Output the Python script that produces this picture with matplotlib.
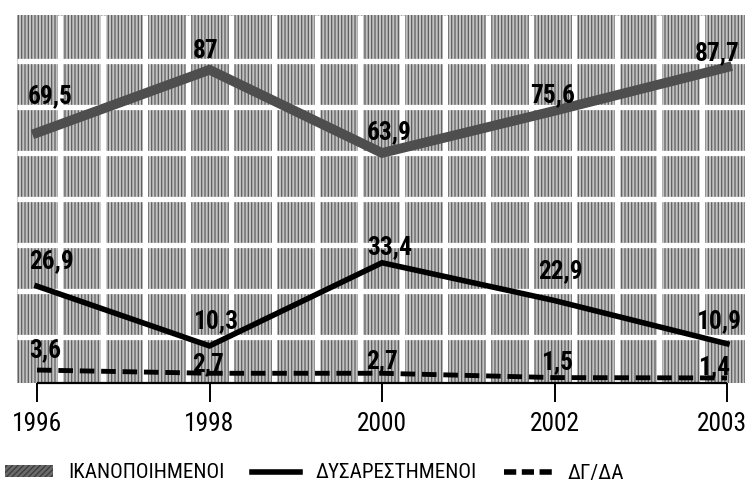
import matplotlib
matplotlib.use("Agg")
import matplotlib.pyplot as plt
import matplotlib.font_manager as fm
import matplotlib.transforms as mtransforms
from matplotlib.font_manager import FontProperties
from matplotlib.lines import Line2D
from matplotlib.patches import Patch

plt.rcParams['hatch.linewidth'] = 0.9

years = ['1996', '1998', '2000', '2002', '2003']
satisfied = [69.5, 87, 63.9, 75.6, 87.7]
dissatisfied = [26.9, 10.3, 33.4, 22.9, 10.9]
dk_na = [3.6, 2.7, 2.7, 1.5, 1.4]
labels_sat = ['69,5', '87', '63,9', '75,6', '87,7']
labels_dis = ['26,9', '10,3', '33,4', '22,9', '10,9']
labels_dk = ['3,6', '2,7', '2,7', '1,5', '1,4']
legend_names = ['ΙΚΑΝΟΠΟΙΗΜΕΝΟΙ', 'ΔΥΣΑΡΕΣΤΗΜΕΝΟΙ', 'ΔΓ/ΔΑ']

# label offsets in pixels (style)
off_sat = [(13, 37), (-4, 19), (7, 21), (-2, 16), (-10, 14)]
off_dis = [(14, 25), (6, 25), (8, 16), (6, 29), (-8, 23)]
off_dk = [(8, 20), (-1, 9), (0, 12), (3, 15), (-13, 11)]

# ---- choose a condensed font if one is installed ----
def pick_font(bold):
    want_w = 700 if bold else 400
    prefs = ['Liberation Sans Narrow', 'Roboto Condensed', 'Open Sans Condensed',
             'Arial Narrow', 'DejaVu Sans Condensed', 'Noto Sans Condensed']
    cands = []
    for f in fm.fontManager.ttflist:
        nm = f.name
        stretch = f.stretch
        is_cond = ('Narrow' in nm or 'Condensed' in nm or
                   (isinstance(stretch, str) and 'condensed' in stretch) or
                   (isinstance(stretch, int) and stretch < 500))
        if not is_cond:
            continue
        w = f.weight if isinstance(f.weight, int) else (700 if 'bold' in str(f.weight) else 400)
        if f.style != 'normal':
            continue
        cands.append((nm, w, f.fname))
    best = None
    for p in prefs:
        for nm, w, fn in cands:
            if nm.startswith(p.split(' Condensed')[0].split(' Narrow')[0]) and abs(w - want_w) < 150:
                best = fn
                break
        if best:
            break
    if best is None:
        for nm, w, fn in cands:
            if abs(w - want_w) < 150:
                best = fn
                break
    if best is None:
        return FontProperties(family='Liberation Sans', weight='bold' if bold else 'normal')
    return FontProperties(fname=best)

fp_reg = pick_font(False)
fp_bold = pick_font(True)

fig = plt.figure(figsize=(7.49, 4.92), dpi=100)
renderer = fig.canvas.get_renderer()

def fit(fp, s, target_w, target_cap, mix=0.0):
    p = fp.copy()
    p.set_size(20)
    t = fig.text(0, 0, s, fontproperties=p)
    w = t.get_window_extent(renderer).width
    t.remove()
    sw = 20 * target_w / w
    size = min(sw, target_cap) if mix == 0 else (sw ** (1 - mix)) * (target_cap ** mix)
    p.set_size(size)
    return p

fp_lab = fit(fp_bold, '69,5', 42, 19.5, mix=0.5)
fp_tick = fit(fp_reg, '1996', 50, 19)
fp_leg = fit(fp_reg, 'ΙΚΑΝΟΠΟΙΗΜΕΝΟΙ', 156, 15.5)

ax = fig.add_axes([17/749, 1-383/492, (745-17)/749, (383-15)/492])

x = list(range(len(years)))
ax.set_xlim(-20/172.5, 4 + 18/172.5)
ax.set_ylim(0, 368/3.6)

# tiled hatched background
ax.patch.set_facecolor('#c2c2c2')
ax.patch.set_edgecolor('#5e5e5e')
ax.patch.set_hatch('|||||')
ax.patch.set_linewidth(0)
ncol_t, nrow_t = 17, 8
for i in range(1, ncol_t):
    ax.plot([i/ncol_t]*2, [0, 1], transform=ax.transAxes, color='white', lw=3.8, zorder=1, solid_capstyle='butt')
for j in range(1, nrow_t):
    ax.plot([0, 1], [j/nrow_t]*2, transform=ax.transAxes, color='white', lw=3.8, zorder=1, solid_capstyle='butt')

for s in ax.spines.values():
    s.set_visible(False)

ax.hlines(0, x[0], x[-1], color='black', lw=1.6, zorder=3, clip_on=False)

ax.plot(x, satisfied, color='#4e4e4e', lw=7, zorder=4, solid_joinstyle='miter')
ax.plot(x, dissatisfied, color='black', lw=4, zorder=5, solid_joinstyle='miter')
ax.plot(x, dk_na, color='black', lw=3.5, ls=(0, (3.0, 1.4)), zorder=5)

for vals, labs, offs in [(satisfied, labels_sat, off_sat), (dissatisfied, labels_dis, off_dis), (dk_na, labels_dk, off_dk)]:
    for xi, v, lab, o in zip(x, vals, labs, offs):
        ax.annotate(lab, (xi, v), xytext=o, textcoords='offset pixels', ha='center', va='center',
                    fontproperties=fp_lab, color='black', zorder=6)

ax.set_xticks(x)
ax.set_xticklabels(years, fontproperties=fp_tick)
ax.tick_params(axis='x', length=14, width=1.4, pad=7, direction='out', color='black')
ax.set_yticks([])
last = ax.get_xticklabels()[-1]
last.set_transform(last.get_transform() + mtransforms.ScaledTranslation(-5/100, 0, fig.dpi_scale_trans))

handles = [Patch(facecolor='#6a6a6a', edgecolor='#3a3a3a', hatch='//////', lw=0),
           Line2D([0], [0], color='black', lw=4),
           Line2D([0], [0], color='black', lw=4, ls=(0, (2.2, 1.0)))]
fig.legend(handles, legend_names, loc='center left', bbox_to_anchor=(5/749, 1-473/492), ncol=3,
           frameon=False, prop=fp_leg, handlelength=2.3, handleheight=0.5, handletextpad=0.7,
           columnspacing=1.3, borderpad=0, borderaxespad=0)

fig.savefig('out.png', dpi=100)
